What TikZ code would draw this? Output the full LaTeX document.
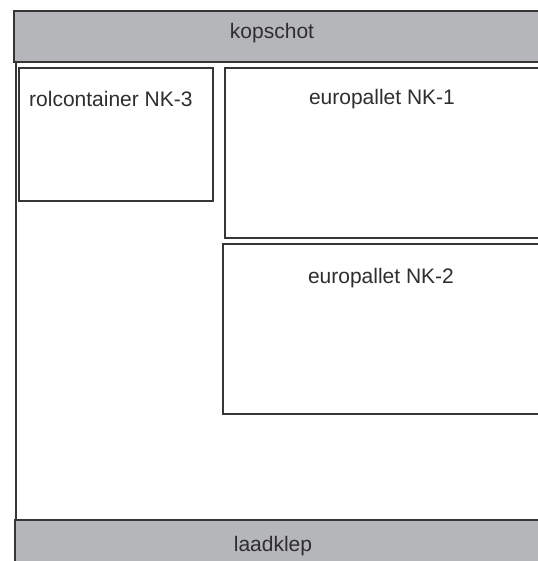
\documentclass[tikz,border=0pt]{standalone}
\usepackage{fontspec}
\setmainfont{Liberation Sans}
\definecolor{barfill}{HTML}{B5B6B9}
\definecolor{edge}{HTML}{363636}
\definecolor{ink}{HTML}{2E2E2E}
\begin{document}
\begin{tikzpicture}[x=1pt,y=-1pt,
  box/.style={draw=edge,line width=1.8pt,fill=white,inner sep=0pt,anchor=north west,rectangle},
  bar/.style={box,fill=barfill},
  lbl/.style={text=ink,font=\fontsize{21}{24}\selectfont,inner sep=0pt,anchor=base}]
\useasboundingbox (0,0) rectangle (537,561);
% trailer body
\node[box, minimum width=600pt, minimum height=470pt] (body) at (15,61) {};
% front wall and loading ramp
\node[bar, minimum width=600pt, minimum height=51pt] (kop) at (13,10) {};
\node[bar, minimum width=600pt, minimum height=80pt] (klep) at (14,519) {};
% loads
\node[box, minimum width=194pt, minimum height=133pt] (rol) at (18,67) {};
\node[box, minimum width=400pt, minimum height=170pt] (nk1) at (224,67) {};
\node[box, minimum width=400pt, minimum height=170pt] (nk2) at (222,243) {};
% labels
\node[lbl] (tkop) at (272,39) {kopschot};
\node[lbl] (tklep) at (273,551) {laadklep};
\node[lbl, anchor=base west] (trol) at (29,107) {rolcontainer NK-3};
\node[lbl] (tnk1) at (382,105) {europallet NK-1};
\node[lbl] (tnk2) at (381,283) {europallet NK-2};
\end{tikzpicture}
\end{document}
